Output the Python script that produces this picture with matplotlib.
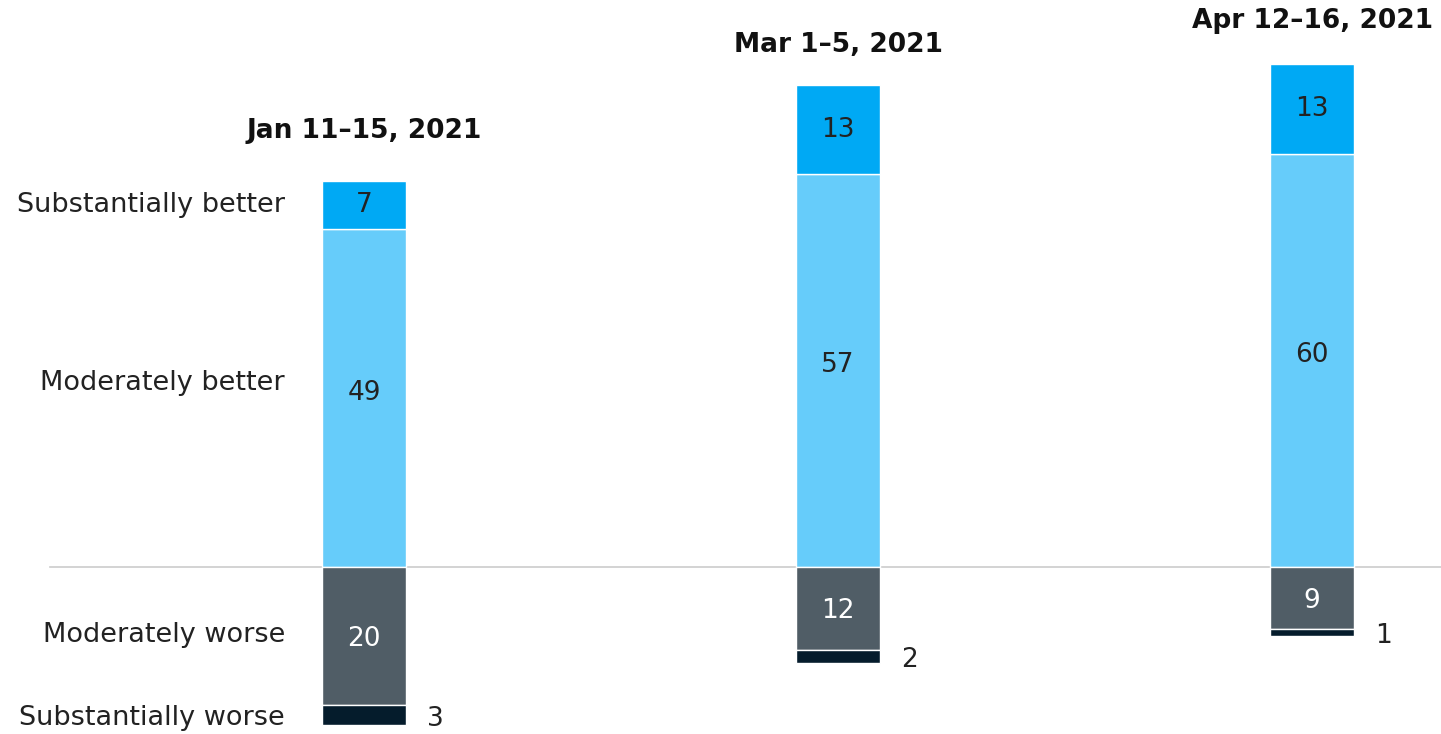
import matplotlib
matplotlib.use("Agg")
import matplotlib.pyplot as plt
import numpy as np

periods = ["Jan 11–15, 2021", "Mar 1–5, 2021", "Apr 12–16, 2021"]
subst_better = [7, 13, 13]
mod_better = [49, 57, 60]
mod_worse = [20, 12, 9]
subst_worse = [3, 2, 1]
row_labels = ["Substantially better", "Moderately better", "Moderately worse", "Substantially worse"]

c_sb = "#00A9F4"
c_mb = "#66CCFA"
c_mw = "#505D66"
c_sw = "#051C2C"
txt = "#222222"

# layout constants (pixels above bar top for titles)
title_gap_px = [50, 40, 43]
px_per_unit = 6.89

plt.rcParams['font.family'] = ['DejaVu Sans']

fig = plt.figure(figsize=(14.41, 7.34), dpi=100)
ax = fig.add_axes([0, 0, 1, 1])
ax.set_xlim(-0.768, 2.272)
ax.set_ylim(-24.24, 82.3)
ax.axis('off')

x = np.arange(len(periods))
w = 0.177
mb = np.array(mod_better)
sb = np.array(subst_better)
mw = np.array(mod_worse)
sw = np.array(subst_worse)

ax.axhline(0, xmin=50/1441, xmax=1, color="#CCCCCC", lw=1.2, zorder=1)

kw = dict(width=w, edgecolor="white", linewidth=1.0, zorder=2)
ax.bar(x, mb, bottom=0, color=c_mb, **kw)
ax.bar(x, sb, bottom=mb, color=c_sb, **kw)
ax.bar(x, -mw, bottom=0, color=c_mw, **kw)
ax.bar(x, -sw, bottom=-mw, color=c_sw, **kw)

fs = 19
for i in range(len(periods)):
    ax.text(x[i], mb[i] + sb[i] / 2, str(sb[i]), ha='center', va='center', fontsize=fs, color=txt, zorder=3)
    ax.text(x[i], mb[i] / 2 + 0.8, str(mb[i]), ha='center', va='center', fontsize=fs, color=txt, zorder=3)
    ax.text(x[i], -mw[i] / 2 - 0.4, str(mw[i]), ha='center', va='center', fontsize=fs, color="white", zorder=3)
    ax.text(x[i] + w / 2 + 0.045, -mw[i] - sw[i] / 2 - 0.5, str(sw[i]), ha='left', va='center', fontsize=fs, color=txt, zorder=3)
    ax.text(x[i], mb[i] + sb[i] + title_gap_px[i] / px_per_unit, periods[i], ha='center', va='center',
            fontsize=19, fontweight='bold', color="#111111")

lx = -0.167
lfs = 19.5
ax.text(lx, mb[0] + sb[0] / 2, row_labels[0], ha='right', va='center', fontsize=lfs, color=txt)
ax.text(lx, 26.7, row_labels[1], ha='right', va='center', fontsize=lfs, color=txt)
ax.text(lx, -9.9, row_labels[2], ha='right', va='center', fontsize=lfs, color=txt)
ax.text(lx, -21.9, row_labels[3], ha='right', va='center', fontsize=lfs, color=txt)

fig.savefig("out.png", dpi=100)
